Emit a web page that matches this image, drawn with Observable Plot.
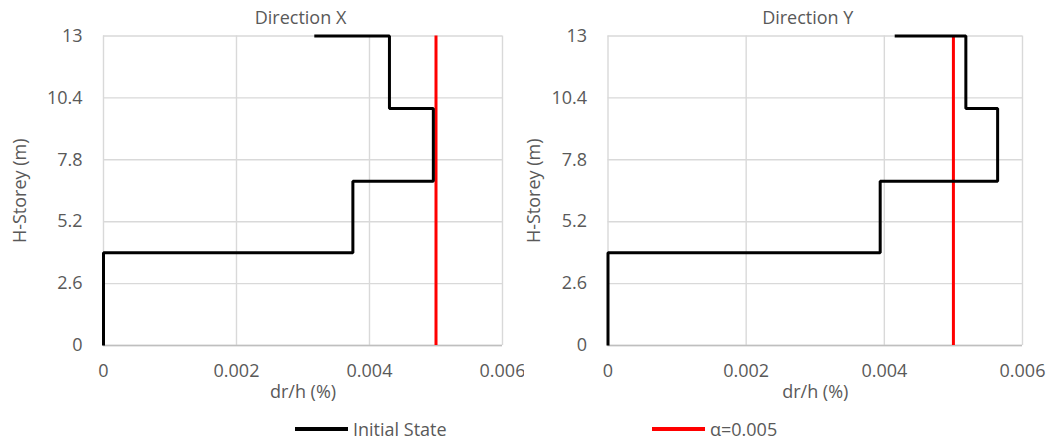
<!DOCTYPE html>
<html>
<head>
<meta charset="utf-8">
<script src="https://cdn.jsdelivr.net/npm/d3@7"></script>
<script src="https://cdn.jsdelivr.net/npm/@observablehq/plot@0.6"></script>
<style>
  html, body { margin: 0; padding: 0; background: #fff; }
  body { width: 1048px; height: 441px; position: relative; overflow: hidden; font-family: "Open Sans", sans-serif; }
  #charts { display: flex; position: absolute; left: 0; top: 0; }
  #legend { position: absolute; left: 0; top: 412px; width: 1048px; height: 33px; font-size: 18px; color: #595959; }
  .item { position: absolute; top: 0; height: 33px; display: flex; align-items: center; }
  .swatch { display: inline-block; width: 53px; height: 4px; margin-right: 5px; }
</style>
</head>
<body>
<div id="charts"></div>
<div id="legend"></div>
<script>
// ---- data ----
const panelTitles = ["Direction X", "Direction Y"];
const storeyHeights = [0, 3.9, 6.9, 9.95, 13];          // m
const driftX = [0, 0.00375, 0.00496, 0.00430, 0.00317]; // dr/h per level
const driftY = [0, 0.00394, 0.00564, 0.00518, 0.00415];
const alphaLimit = 0.005;
const xTicks = [0, 0.002, 0.004, 0.006];
const yTicks = [0, 2.6, 5.2, 7.8, 10.4, 13];
const seriesNames = ["Initial State", "α=0.005"];
const seriesColors = ["#000000", "#ff0000"];

// stair-shaped drift profile built from the arrays
function stair(drift) {
  const pts = [];
  for (let i = 0; i < storeyHeights.length; i++) {
    if (i > 0) pts.push({x: drift[i - 1], y: storeyHeights[i]});
    pts.push({x: drift[i], y: storeyHeights[i]});
  }
  return pts;
}

function panel(title, drift, opts) {
  const fs = 18;
  return Plot.plot({
    width: 524,
    height: 412,
    marginLeft: opts.ml,
    marginRight: opts.mr,
    marginTop: 35.5,
    marginBottom: 67,
    style: {fontFamily: "Open Sans", fontSize: fs + "px", color: "#595959", background: "white", overflow: "visible"},
    x: {domain: [0, 0.006], label: null},
    y: {domain: [0, 13], label: null},
    marks: [
      Plot.gridX(xTicks, {stroke: "#d9d9d9", strokeOpacity: 1, strokeWidth: 1.4}),
      Plot.gridY(yTicks, {stroke: "#d9d9d9", strokeOpacity: 1, strokeWidth: 1.4}),
      Plot.ruleY([0], {stroke: "#bfbfbf", strokeWidth: 1.5}),
      Plot.axisX(xTicks, {tickSize: 0, tickPadding: 19, tickFormat: d => String(d), fill: "#595959", fontSize: fs, label: null}),
      Plot.axisY(yTicks, {tickSize: 0, tickPadding: 21, tickFormat: d => String(d), fill: "#595959", fontSize: fs, label: null}),
      Plot.ruleX([alphaLimit], {stroke: seriesColors[1], strokeWidth: 3}),
      Plot.line(stair(drift), {x: "x", y: "y", stroke: seriesColors[0], strokeWidth: 3, strokeLinejoin: "miter", strokeLinecap: "butt"}),
      Plot.text([title], {frameAnchor: "top", lineAnchor: "middle", textAnchor: "middle", dy: -18, dx: opts.titleDx, fill: "#595959", fontSize: fs}),
      Plot.text(["dr/h (%)"], {frameAnchor: "bottom", lineAnchor: "middle", textAnchor: "middle", dy: 47, fill: "#595959", fontSize: fs}),
      Plot.text(["H-Storey (m)"], {frameAnchor: "left", lineAnchor: "middle", textAnchor: "middle", dx: opts.ylabDx, rotate: -90, fill: "#595959", fontSize: fs})
    ]
  });
}

const charts = document.getElementById("charts");
charts.append(panel(panelTitles[0], driftX, {ml: 103, mr: 22, titleDx: -2.5, ylabDx: -83}));
charts.append(panel(panelTitles[1], driftY, {ml: 83.5, mr: 26, titleDx: -7.5, ylabDx: -74}));

// legend
const legend = document.getElementById("legend");
const legendX = [295, 652];
seriesNames.forEach((name, i) => {
  const item = document.createElement("div");
  item.className = "item";
  item.style.left = legendX[i] + "px";
  const sw = document.createElement("span");
  sw.className = "swatch";
  sw.style.background = seriesColors[i];
  item.append(sw, document.createTextNode(name));
  legend.append(item);
});
</script>
</body>
</html>
